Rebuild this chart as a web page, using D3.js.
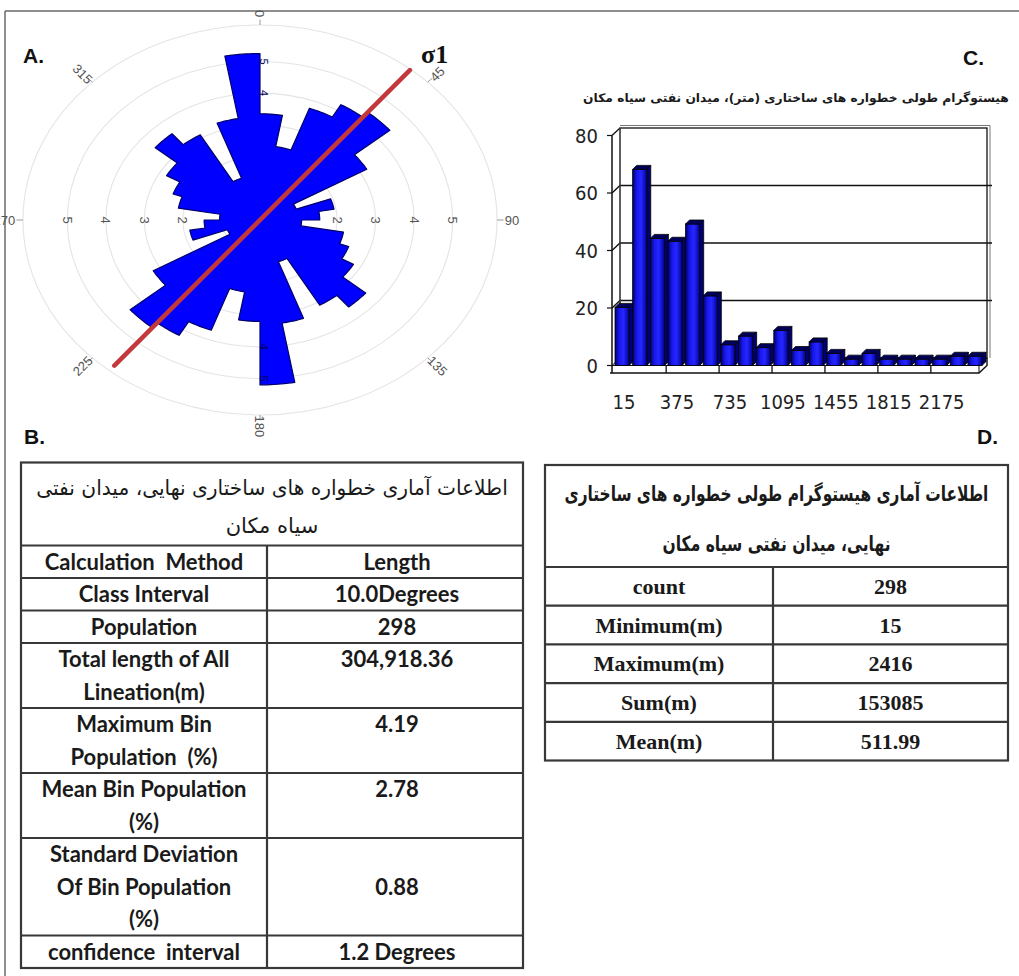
<!DOCTYPE html>
<html>
<head>
<meta charset="utf-8">
<script src="https://cdn.jsdelivr.net/npm/d3@7"></script>
<style>
  body { margin: 0; background: #fff; }
  svg { display: block; }
</style>
</head>
<body>
<script>
// ---- A. rose diagram, percent per 10 degree class, clockwise from north ----
var roseBins = [3.35, 2.35, 3.75, 4.2, 4.4, 3.2, 1.0, 1.95, 1.55, 1.08, 2.2, 2.45, 2.8, 3.58, 3.1, 1.4, 3.3, 5.2,
                3.2, 2.3, 3.7, 4.2, 4.4, 3.2, 0.9, 1.85, 1.45, 1.05, 2.15, 2.4, 2.8, 3.55, 3.1, 1.4, 3.25, 5.25];
var roseRings = [1, 2, 3, 4, 5];
var roseSideLabels = [2, 3, 4, 5];
var roseTopLabels = [4, 5];
var roseAngleLabels = [0, 45, 90, 135, 180, 225, 270, 315];
var sigma1Azimuth = 45;

// ---- C. length histogram ----
var histBins = [15, 135, 255, 375, 495, 615, 735, 855, 975, 1095, 1215, 1335, 1455, 1575, 1695, 1815, 1935, 2055, 2175, 2295, 2415];
var histCounts = [19, 67, 43, 42, 48, 23, 6, 9, 5, 11, 4, 7, 3, 1, 3, 1, 1, 1, 1, 2, 2];
var histTickLabels = [15, 375, 735, 1095, 1455, 1815, 2175];
var histYTicks = [0, 20, 40, 60, 80];
var histTitle = "هیستوگرام طولی خطواره های ساختاری (متر)، میدان نفتی سیاه مکان";

// ---- B. rose statistics table ----
var tableBTitle = ["اطلاعات آماری خطواره های ساختاری نهایی، میدان نفتی", "سیاه مکان"];
var tableBLabels = [["Calculation  Method"], ["Class Interval"], ["Population"],
                    ["Total length of All", "Lineation(m)"], ["Maximum Bin", "Population  (%)"],
                    ["Mean Bin Population", "(%)"], ["Standard Deviation", "Of Bin Population", "(%)"],
                    ["confidence  interval"]];
var tableBValues = ["Length", "10.0Degrees", "298", "304,918.36", "4.19", "2.78", "0.88", "1.2 Degrees"];

// ---- D. histogram statistics table ----
var tableDTitle = ["اطلاعات آماری هیستوگرام طولی خطواره های  ساختاری", "نهایی، میدان نفتی سیاه مکان"];
var tableDLabels = ["count", "Minimum(m)", "Maximum(m)", "Sum(m)", "Mean(m)"];
var tableDValues = ["298", "15", "2416", "153085", "511.99"];

var arabicFont = "'DejaVu Sans', sans-serif";

var svg = d3.select("body").append("svg")
    .attr("width", 1019)
    .attr("height", 976);

var defs = svg.append("defs");
var grad = defs.append("linearGradient").attr("id", "barFace")
    .attr("x1", "0%").attr("x2", "100%").attr("y1", "0%").attr("y2", "0%");
grad.append("stop").attr("offset", "0%").attr("stop-color", "#00006e");
grad.append("stop").attr("offset", "30%").attr("stop-color", "#1818ee");
grad.append("stop").attr("offset", "60%").attr("stop-color", "#2626ff");
grad.append("stop").attr("offset", "100%").attr("stop-color", "#00009c");

// frame lines of the figure
svg.append("line").attr("x1", 5).attr("x2", 1019).attr("y1", 11).attr("y2", 11)
    .attr("stroke", "#6a6a6a").attr("stroke-width", 1.5);
svg.append("line").attr("x1", 5).attr("x2", 5).attr("y1", 11).attr("y2", 976)
    .attr("stroke", "#6a6a6a").attr("stroke-width", 1.5);

//panel letters
function panelLetter(t, x, y){
    svg.append("text").attr("x", x).attr("y", y).text(t)
        .attr("font-family", "'Liberation Sans', Arial, sans-serif")
        .attr("font-weight", "bold").attr("font-size", 21).attr("fill", "#111");
}
panelLetter("A.", 23, 63);
panelLetter("B.", 24, 444);
panelLetter("C.", 963, 65);
panelLetter("D.", 977, 444);

// persian line squeezed sideways to a given width (keeps the letter joins)
function persianLine(t, cx, y, width, size, bold){
    var txt = svg.append("text")
        .attr("text-anchor", "middle").attr("direction", "rtl")
        .attr("font-family", arabicFont)
        .attr("font-weight", bold ? "bold" : "normal")
        .attr("font-size", size)
        .attr("fill", "#1a1a1a")
        .text(t);
    var w = txt.node().getComputedTextLength();
    var k = w > 0 ? width / w : 1;
    txt.attr("transform", "translate(" + cx + "," + y + ") scale(" + k + ",1)");
    return txt;
}

// ================= A. rose =================
function drawRose(){
    var cx = 260, cy = 220;
    var outer = 6.15;
    // the picture is stretched sideways, so two radial scales
    var rx = d3.scaleLinear().domain([0, outer]).range([0, 237]);
    var ry = d3.scaleLinear().domain([0, outer]).range([0, 195]);
    var rad = function(deg){ return deg * Math.PI / 180; };
    var px = function(a, r){ return rx(r) * Math.sin(rad(a)); };
    var py = function(a, r){ return -ry(r) * Math.cos(rad(a)); };

    var g = svg.append("g").attr("transform", "translate(" + cx + "," + cy + ")");

    // rings
    g.selectAll(".ring")
        .data(roseRings.concat([outer]))
        .enter().append("ellipse")
        .attr("rx", function(d){ return rx(d); })
        .attr("ry", function(d){ return ry(d); })
        .attr("fill", "none")
        .attr("stroke", "#e4e4e4")
        .attr("stroke-width", 1.1);

    // petals as one outline
    var pts = [];
    roseBins.forEach(function(v, i){
        for (var t = 0; t <= 10; t++){
            pts.push([i * 10 + t, v]);
        }
    });
    var line = d3.line()
        .x(function(d){ return px(d[0], d[1]); })
        .y(function(d){ return py(d[0], d[1]); })
        .curve(d3.curveLinearClosed);
    g.append("path")
        .datum(pts)
        .attr("d", line)
        .attr("fill", "#0000ff")
        .attr("stroke", "#00006a")
        .attr("stroke-width", 1.2)
        .attr("stroke-linejoin", "round");

    var labelFont = "'Liberation Sans', Arial, sans-serif";

    // angle ticks and labels
    g.selectAll(".aTick")
        .data(roseAngleLabels)
        .enter().append("line")
        .attr("x1", function(d){ return px(d, outer); })
        .attr("y1", function(d){ return py(d, outer); })
        .attr("x2", function(d){ return px(d, outer + 0.17); })
        .attr("y2", function(d){ return py(d, outer + 0.17); })
        .attr("stroke", "#999").attr("stroke-width", 1);

    g.selectAll(".aLabel")
        .data(roseAngleLabels)
        .enter().append("text")
        .attr("transform", function(d){
            var rot = (90 + d) % 180;
            if (rot > 90) rot -= 180;
            var r = (d === 90 || d === 270) ? outer + 0.2 : outer + 0.36;
            return "translate(" + px(d, r) + "," + py(d, r) + ") rotate(" + rot + ")";
        })
        .attr("text-anchor", function(d){
            return d === 90 ? "start" : (d === 270 ? "end" : "middle");
        })
        .attr("dy", "0.35em")
        .attr("font-family", labelFont)
        .attr("font-size", 13)
        .attr("fill", "#555")
        .text(function(d){ return d; });

    // radial labels on the horizontal axis
    [90, 270].forEach(function(a){
        g.selectAll(".rl" + a)
            .data(roseSideLabels)
            .enter().append("text")
            .attr("transform", function(d){
                return "translate(" + px(a, d) + "," + py(a, d) + ") rotate(90)";
            })
            .attr("text-anchor", "middle")
            .attr("dy", "0.35em")
            .attr("font-family", labelFont)
            .attr("font-size", 13)
            .attr("fill", "#555")
            .text(function(d){ return d; });
    });
    [0, 180].forEach(function(a){
        g.selectAll(".rv" + a)
            .data(roseTopLabels)
            .enter().append("text")
            .attr("transform", function(d){
                return "translate(" + (px(a, d) + 4) + "," + py(a, d) + ") rotate(90)";
            })
            .attr("text-anchor", "middle")
            .attr("dy", "0.35em")
            .attr("font-family", labelFont)
            .attr("font-size", 11)
            .attr("fill", "#000055")
            .text(function(d){ return d; });
    });

    // sigma 1 direction (drawn on the finished picture, so not stretched)
    var reachUp = 212, reachDown = 206;
    var s = Math.sin(rad(sigma1Azimuth)), c = Math.cos(rad(sigma1Azimuth));
    g.append("line")
        .attr("x1", -reachDown * s).attr("y1", reachDown * c)
        .attr("x2", reachUp * s).attr("y2", -reachUp * c)
        .attr("stroke", "#c4383c")
        .attr("stroke-width", 4.5)
        .attr("stroke-linecap", "round");

    svg.append("text").attr("x", 421).attr("y", 63)
        .attr("font-family", "'Liberation Serif', 'Times New Roman', serif")
        .attr("font-weight", "bold").attr("font-size", 26).attr("fill", "#111")
        .text("σ1");
}

// ================= C. histogram =================
function drawHistogram(){
    var dep = 8, dy = 7.5;           // depth of the box
    var xL = 620, xR = 987;          // back wall
    var yBack = d3.scaleLinear().domain([0, 80]).range([358, 128]);
    var yFront = function(v){ return yBack(v) + dy; };
    var floorBottom = yFront(0) + 7.5;
    var numFont = "'Liberation Sans Narrow', 'Arial Narrow', 'DejaVu Sans Condensed', sans-serif";

    var x = d3.scaleBand().domain(histBins).range([615, 982]).paddingInner(0.2).paddingOuter(0);
    var g = svg.append("g");
    var ink = "#111";

    // back wall
    g.append("rect").attr("x", xL).attr("y", yBack(80))
        .attr("width", xR - xL).attr("height", yBack(0) - yBack(80))
        .attr("fill", "#fff").attr("stroke", ink).attr("stroke-width", 1.3);
    g.append("line").attr("x1", xL).attr("x2", xR + 3)
        .attr("y1", yBack(80) - 2.5).attr("y2", yBack(80) - 2.5)
        .attr("stroke", "#777").attr("stroke-width", 1);
    g.append("line").attr("x1", xR + 3).attr("x2", xR + 3)
        .attr("y1", yBack(80) - 2.5).attr("y2", yBack(0))
        .attr("stroke", "#777").attr("stroke-width", 1);

    // grid lines, back wall and left wall
    g.selectAll(".grid")
        .data(histYTicks.filter(function(d){ return d > 0 && d < 80; }))
        .enter().append("polyline")
        .attr("points", function(d){
            return [[xL - dep, yFront(d)], [xL, yBack(d)], [xR + 5, yBack(d)]].join(" ");
        })
        .attr("fill", "none").attr("stroke", ink).attr("stroke-width", 1.4);

    // left wall edges
    g.append("polyline")
        .attr("points", [[xL - dep, yFront(80)], [xL, yBack(80)]].join(" "))
        .attr("fill", "none").attr("stroke", ink).attr("stroke-width", 1.3);
    g.append("line").attr("x1", xL - dep).attr("x2", xL - dep)
        .attr("y1", yFront(80)).attr("y2", floorBottom)
        .attr("stroke", ink).attr("stroke-width", 1.5);
    g.append("line").attr("x1", xL).attr("x2", xL)
        .attr("y1", yBack(80)).attr("y2", yBack(0))
        .attr("stroke", "#555").attr("stroke-width", 0.8);

    // floor slab
    g.append("polygon")
        .attr("points", [[xL - dep, yFront(0)], [xL, yBack(0)], [xR, yBack(0)], [xR - dep, yFront(0)]].join(" "))
        .attr("fill", "#fff").attr("stroke", ink).attr("stroke-width", 1);
    g.append("polyline")
        .attr("points", [[xL - dep - 2, floorBottom], [xR - dep, floorBottom], [xR, floorBottom - dy], [xR, yBack(0)]].join(" "))
        .attr("fill", "none").attr("stroke", ink).attr("stroke-width", 1.4);
    g.append("line").attr("x1", xR - dep).attr("x2", xR - dep)
        .attr("y1", yFront(0)).attr("y2", floorBottom)
        .attr("stroke", ink).attr("stroke-width", 1);

    // y ticks + labels
    g.selectAll(".ytick")
        .data(histYTicks)
        .enter().append("line")
        .attr("x1", xL - dep - 5).attr("x2", xL - dep)
        .attr("y1", function(d){ return yFront(d); })
        .attr("y2", function(d){ return yFront(d); })
        .attr("stroke", ink).attr("stroke-width", 1.2);
    g.selectAll(".ylab")
        .data(histYTicks)
        .enter().append("text")
        .attr("x", 598)
        .attr("y", function(d){ return yFront(d); })
        .attr("dy", "0.36em")
        .attr("text-anchor", "end")
        .attr("font-family", numFont)
        .attr("font-size", 20)
        .attr("fill", "#222")
        .text(function(d){ return d; });

    // bars
    var bw = x.bandwidth(), bd = 4;
    var base = yFront(0);
    var bars = g.selectAll(".bar")
        .data(histBins.map(function(b, i){ return {bin: b, n: histCounts[i]}; }))
        .enter().append("g");
    bars.append("polygon")       // side
        .attr("points", function(d){
            var x0 = x(d.bin) + bw, t = yBack(d.n) + bd;
            return [[x0, t], [x0 + bd, t - bd], [x0 + bd, base - bd], [x0, base]].join(" ");
        })
        .attr("fill", "#000070").attr("stroke", "#000").attr("stroke-width", 0.8);
    bars.append("rect")          // front
        .attr("x", function(d){ return x(d.bin); })
        .attr("y", function(d){ return yBack(d.n) + bd; })
        .attr("width", bw)
        .attr("height", function(d){ return Math.max(0, base - yBack(d.n) - bd); })
        .attr("fill", "url(#barFace)").attr("stroke", "#000").attr("stroke-width", 0.8);
    bars.append("polygon")       // top
        .attr("points", function(d){
            var x0 = x(d.bin), t = yBack(d.n) + bd;
            return [[x0, t], [x0 + bd, t - bd], [x0 + bw + bd, t - bd], [x0 + bw, t]].join(" ");
        })
        .attr("fill", "#00005c").attr("stroke", "#000").attr("stroke-width", 0.8);

    // x ticks between every third class
    var step = x.step();
    g.selectAll(".xtick")
        .data(histTickLabels.slice(1))
        .enter().append("line")
        .attr("x1", function(d){ return x(d) - (step - bw) / 2; })
        .attr("x2", function(d){ return x(d) - (step - bw) / 2; })
        .attr("y1", yFront(0))
        .attr("y2", floorBottom)
        .attr("stroke", ink).attr("stroke-width", 1.3);

    g.selectAll(".xlab")
        .data(histTickLabels)
        .enter().append("text")
        .attr("x", function(d){ return x(d) + bw / 2 + 2; })
        .attr("y", 409)
        .attr("text-anchor", "middle")
        .attr("font-family", numFont)
        .attr("font-size", 20)
        .attr("fill", "#222")
        .text(function(d){ return d; });

    persianLine(histTitle, 796, 102, 426, 12, true);
}

// ================= tables =================
function border(x1, y1, x2, y2){
    svg.append("line").attr("x1", x1).attr("y1", y1).attr("x2", x2).attr("y2", y2)
        .attr("stroke", "#383838").attr("stroke-width", 2.2);
}

function drawTableB(){
    var x0 = 21, x1 = 523, xm = 267, y0 = 462.5;
    var titleH = 83, lineH = 32.5;
    var font = "Lato, 'Open Sans', sans-serif", fs = 22;

    svg.append("rect").attr("x", x0).attr("y", y0).attr("width", x1 - x0)
        .attr("height", titleH + lineH * d3.sum(tableBLabels, function(d){ return d.length; }))
        .attr("fill", "none").attr("stroke", "#383838").attr("stroke-width", 2.2);

    persianLine(tableBTitle[0], (x0 + x1) / 2, y0 + 32.5, 472, 21, false);
    svg.append("text")
        .attr("x", (x0 + x1) / 2).attr("y", y0 + 70)
        .attr("text-anchor", "middle").attr("direction", "rtl")
        .attr("font-family", arabicFont).attr("font-size", 21)
        .attr("fill", "#1a1a1a").text(tableBTitle[1]);

    var y = y0 + titleH;
    border(x0, y, x1, y);
    tableBLabels.forEach(function(lines, i){
        var h = lines.length * lineH;
        lines.forEach(function(l, j){
            svg.append("text")
                .attr("x", (x0 + xm) / 2).attr("y", y + lineH * (j + 0.5))
                .attr("dy", "0.36em").attr("text-anchor", "middle")
                .attr("font-family", font).attr("font-weight", "bold")
                .attr("font-size", fs).attr("fill", "#1a1a1a")
                .attr("xml:space", "preserve")
                .text(l);
        });
        var vy = lines.length > 2 ? y + h / 2 : y + lineH / 2;
        svg.append("text")
            .attr("x", (xm + x1) / 2 + 2).attr("y", vy)
            .attr("dy", "0.36em").attr("text-anchor", "middle")
            .attr("font-family", font).attr("font-weight", "bold")
            .attr("font-size", fs).attr("fill", "#1a1a1a")
            .text(tableBValues[i]);
        border(xm, y, xm, y + h);
        y += h;
        if (i < tableBLabels.length - 1) border(x0, y, x1, y);
    });
}

function drawTableD(){
    var x0 = 545, x1 = 1008, xm = 773, y0 = 465;
    var titleH = 102, rowH = 38.7;
    var font = "'Liberation Serif', 'Times New Roman', serif";

    svg.append("rect").attr("x", x0).attr("y", y0).attr("width", x1 - x0)
        .attr("height", titleH + rowH * tableDLabels.length)
        .attr("fill", "none").attr("stroke", "#383838").attr("stroke-width", 2.2);

    persianLine(tableDTitle[0], (x0 + x1) / 2, y0 + 36, 424, 21, true);
    persianLine(tableDTitle[1], (x0 + x1) / 2, y0 + 86, 228, 21, true);

    var y = y0 + titleH;
    tableDLabels.forEach(function(l, i){
        border(x0, y, x1, y);
        svg.append("text")
            .attr("x", (x0 + xm) / 2).attr("y", y + rowH / 2)
            .attr("dy", "0.34em").attr("text-anchor", "middle")
            .attr("font-family", font).attr("font-weight", "bold")
            .attr("font-size", 22).attr("fill", "#1a1a1a").text(l);
        svg.append("text")
            .attr("x", (xm + x1) / 2).attr("y", y + rowH / 2)
            .attr("dy", "0.34em").attr("text-anchor", "middle")
            .attr("font-family", font).attr("font-weight", "bold")
            .attr("font-size", 22).attr("fill", "#1a1a1a").text(tableDValues[i]);
        y += rowH;
    });
    border(xm, y0 + titleH, xm, y);
}

drawRose();
drawHistogram();
drawTableB();
drawTableD();
</script>
</body>
</html>
